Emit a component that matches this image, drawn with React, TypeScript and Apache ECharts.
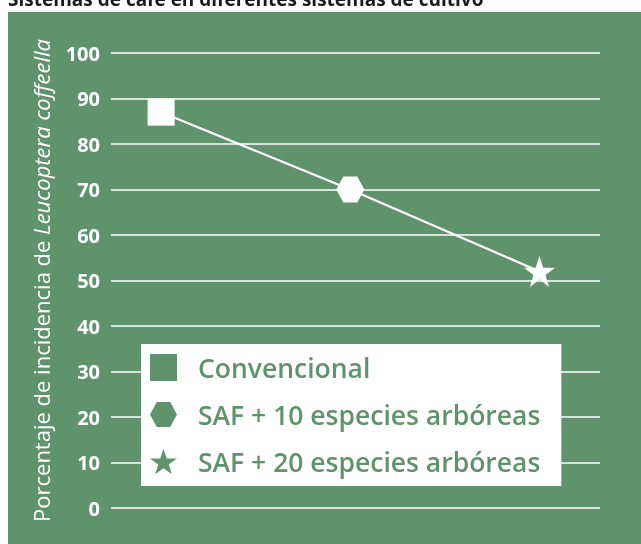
import React, { useEffect, useRef } from "react";
import * as echarts from "echarts";

const titleText = "Sistemas de café en diferentes sistemas de cultivo";
const seriesNames = ["Convencional", "SAF + 10 especies arbóreas", "SAF + 20 especies arbóreas"];
const xPositions = [1, 2, 3];
const incidence = [87, 70, 52];
const yTicks = { min: 0, max: 100, interval: 10 };
const axisNamePlain = "Porcentaje de incidencia de ";
const axisNameItalic = "Leucoptera coffeella";

const GREEN = "#5f936b";
const HEX = "path://M0,50 L25,4 L75,4 L100,50 L75,96 L25,96 Z";
const STAR = "path://M50,0 L61.8,35.4 L99,35.4 L69,57.3 L80.4,92.7 L50,70.8 L19.6,92.7 L31,57.3 L1,35.4 L38.2,35.4 Z";
const symbols = ["rect", HEX, STAR];
const symbolSizes: any[] = [27, [28, 26], 31];

export default function App() {
  const ref = useRef<HTMLDivElement>(null);
  useEffect(() => {
    if (!ref.current) return;
    const chart = echarts.init(ref.current, undefined, { renderer: "svg" });
    const points = xPositions.map((x, i) => [x, incidence[i]]);
    chart.setOption({
      animation: false,
      graphic: [
        {
          type: "rect",
          z: -100,
          silent: true,
          shape: { x: 8, y: 12, width: 640, height: 540 },
          style: { fill: GREEN },
        },
        {
          type: "text",
          x: 8,
          y: 8,
          style: {
            text: titleText,
            fill: "#1a1a1a",
            font: "bold 19px 'Open Sans'",
            verticalAlign: "bottom",
          },
        },
      ],
      grid: { left: 111, right: 41, top: 53, bottom: 36 },
      xAxis: { type: "value", min: 0.735, max: 3.32, show: false },
      yAxis: {
        type: "value",
        min: yTicks.min,
        max: yTicks.max,
        interval: yTicks.interval,
        axisLine: { show: false },
        axisTick: { show: false },
        axisLabel: {
          color: "#ffffff",
          fontFamily: "Open Sans",
          fontWeight: "bold",
          fontSize: 20,
          margin: 11,
        },
        splitLine: { lineStyle: { color: "#ffffff", width: 1.6 } },
        name: `{a|${axisNamePlain}}{b|${axisNameItalic}}`,
        nameLocation: "middle",
        nameGap: 59,
        nameTextStyle: {
          rich: {
            a: { color: "#ffffff", fontFamily: "Open Sans", fontSize: 22 },
            b: { color: "#ffffff", fontFamily: "Open Sans", fontSize: 22, fontStyle: "italic" },
          },
        },
      },
      legend: {
        orient: "vertical",
        left: 141,
        top: 344,
        backgroundColor: "#ffffff",
        padding: [10, 21, 11, 9],
        itemWidth: 27,
        itemHeight: 27,
        itemGap: 20,
        data: seriesNames.map((n, i) => ({
          name: n,
          icon: symbols[i],
          itemStyle: { color: GREEN },
        })),
        textStyle: {
          color: GREEN,
          fontFamily: "Open Sans",
          fontSize: 26.5,
          fontWeight: 600,
          lineHeight: 27,
          padding: [0, 0, 0, 16],
        },
      },
      series: [
        {
          type: "line",
          data: points,
          symbol: "none",
          lineStyle: { color: "#ffffff", width: 2.2 },
          z: 2,
          silent: true,
        },
        ...seriesNames.map((n, i) => ({
          name: n,
          type: "scatter",
          data: [points[i]],
          symbol: symbols[i],
          symbolSize: symbolSizes[i],
          itemStyle: { color: "#ffffff", opacity: 1 },
          z: 3,
        })),
      ],
    });
    return () => chart.dispose();
  }, []);
  return (
    <div
      ref={ref}
      style={{ position: "fixed", left: 0, top: 0, width: 641, height: 544 }}
    />
  );
}
